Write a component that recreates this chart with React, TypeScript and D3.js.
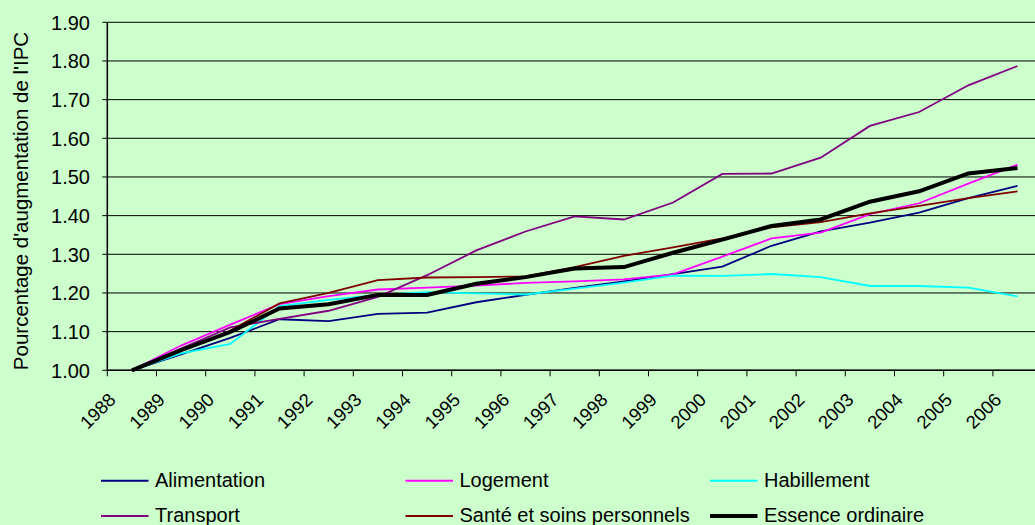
import React from "react";
import * as d3 from "d3";

const years = ["1988","1989","1990","1991","1992","1993","1994","1995","1996","1997","1998","1999","2000","2001","2002","2003","2004","2005","2006"];

const alimentation = [1.00,1.041,1.084,1.132,1.127,1.146,1.149,1.176,1.195,1.213,1.230,1.249,1.268,1.322,1.359,1.382,1.408,1.445,1.477];
const logement = [1.00,1.064,1.118,1.171,1.192,1.209,1.214,1.219,1.226,1.230,1.235,1.248,1.294,1.341,1.356,1.404,1.432,1.483,1.532];
const habillement = [1.00,1.044,1.068,1.166,1.182,1.195,1.202,1.199,1.196,1.211,1.227,1.245,1.244,1.249,1.241,1.218,1.218,1.214,1.191];
const transport = [1.00,1.056,1.111,1.133,1.154,1.190,1.246,1.310,1.359,1.398,1.390,1.434,1.508,1.509,1.550,1.632,1.668,1.737,1.787];
const sante = [1.00,1.050,1.103,1.173,1.200,1.233,1.240,1.241,1.243,1.267,1.296,1.318,1.341,1.370,1.383,1.406,1.425,1.445,1.463];
const essence = [1.00,1.052,1.099,1.160,1.171,1.195,1.195,1.224,1.241,1.263,1.267,1.304,1.338,1.373,1.390,1.436,1.463,1.509,1.523];

const yTicks = [1.0,1.1,1.2,1.3,1.4,1.5,1.6,1.7,1.8,1.9];
const yTitle = "Pourcentage d'augmentation de l'IPC";

const series = [
  { name: "Alimentation", values: alimentation, color: "#000080", width: 1.8 },
  { name: "Logement", values: logement, color: "#FF00FF", width: 1.8 },
  { name: "Habillement", values: habillement, color: "#00FFFF", width: 1.8 },
  { name: "Transport", values: transport, color: "#800080", width: 1.8 },
  { name: "Santé et soins personnels", values: sante, color: "#800000", width: 1.8 },
  { name: "Essence ordinaire", values: essence, color: "#000000", width: 4 },
];

const W = 1035, H = 525;
const left = 107.3, right = 107.3 + 19 * 49.2, top = 22.3, bottom = 370.3;
const font = "Arial, 'Liberation Sans', sans-serif";

export default function App() {
  const x = d3.scaleBand<string>().domain(years).range([left, right]);
  const y = d3.scaleLinear().domain([1, 1.9]).range([bottom, top]);
  const cx = (yr: string) => (x(yr) as number) + x.bandwidth() / 2;
  const line = d3.line<number>().x((_, i) => cx(years[i])).y((v) => y(v));

  const legendCols = [101, 405.5, 710];
  const legendRows = [480.7, 516];

  return (
    <svg width={W} height={H} style={{ position: "absolute", left: 0, top: 0, background: "#CCFFCC" }} fontFamily={font}>
      <rect x={0} y={0} width={W} height={H} fill="#CCFFCC" />
      {yTicks.map((t) => (
        <g key={t}>
          <line x1={left - 5} x2={right} y1={y(t)} y2={y(t)} stroke="#000" strokeWidth={1} />
          <text x={90} y={y(t)} dy="0.36em" textAnchor="end" fontSize={20} fill="#000">{t.toFixed(2)}</text>
        </g>
      ))}
      <line x1={left} x2={left} y1={top} y2={bottom} stroke="#000" strokeWidth={1.5} />
      <line x1={left} x2={right} y1={bottom} y2={bottom} stroke="#000" strokeWidth={1.5} />
      {d3.range(years.length + 1).map((k) => {
        const xx = left + k * x.bandwidth();
        return <line key={k} x1={xx} x2={xx} y1={bottom} y2={bottom + 6} stroke="#000" strokeWidth={1} />;
      })}
      {years.map((yr) => (
        <text key={yr} transform={`translate(${cx(yr) - 15},401) rotate(-45)`} textAnchor="end" fontSize={18.5} fill="#000">{yr}</text>
      ))}
      <text transform={`translate(28,201) rotate(-90)`} textAnchor="middle" fontSize={20.5} fill="#000">{yTitle}</text>
      {series.map((s) => (
        <path key={s.name} d={line(s.values) || ""} fill="none" stroke={s.color} strokeWidth={s.width} strokeLinejoin="miter" />
      ))}
      {series.map((s, i) => {
        const lx = legendCols[i % 3];
        const ly = legendRows[Math.floor(i / 3)];
        return (
          <g key={s.name}>
            <line x1={lx} x2={lx + 47.5} y1={ly} y2={ly} stroke={s.color} strokeWidth={s.width === 4 ? 4 : 2} />
            <text x={lx + 54} y={ly + 6} fontSize={20} fill="#000">{s.name}</text>
          </g>
        );
      })}
    </svg>
  );
}
